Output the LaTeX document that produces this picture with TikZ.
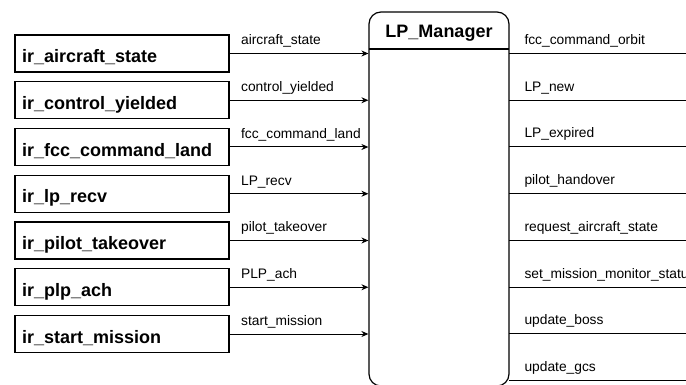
\documentclass[tikz,border=0pt]{standalone}
\usepackage{fontspec}
\setmainfont{Liberation Sans}
\usetikzlibrary{arrows.meta}
\begin{document}
\begin{tikzpicture}[x=1pt,y=-1pt,
  inbox/.style={draw, line width=1.2pt, minimum width=214pt, minimum height=37pt,
    inner xsep=7pt, inner ysep=0pt, text width=200pt, align=left,
    font=\fontsize{18}{20}\selectfont\bfseries, text height=18.4pt, text depth=0pt},
  manager/.style={draw, line width=1.2pt, rounded corners=12pt,
    minimum width=140pt, minimum height=374pt, inner sep=0pt},
  flow/.style={line width=1pt, -{Stealth[length=7pt,width=6pt]}},
  outflow/.style={line width=1pt},
  sig/.style={font=\fontsize{13.8}{15}\selectfont, inner sep=0pt, anchor=base west}]

\useasboundingbox (0,0) rectangle (686,385);
\clip (0,0) rectangle (686,385);

% central block with its header
\node[manager] (mgr) at (439,199) {};
\node[font=\fontsize{18}{20}\selectfont\bfseries, inner sep=0pt, anchor=base] (title) at (439,37.5) {LP\_Manager};
\coordinate (hl) at (369,49);
\coordinate (hr) at (509,49);
\draw[line width=1.2pt] (hl) -- (hr);

% input blocks and their signals
\foreach \i/\blk/\sg in {0/ir\_aircraft\_state/aircraft\_state,
                         1/ir\_control\_yielded/control\_yielded,
                         2/ir\_fcc\_command\_land/fcc\_command\_land,
                         3/ir\_lp\_recv/LP\_recv,
                         4/ir\_pilot\_takeover/pilot\_takeover,
                         5/ir\_plp\_ach/PLP\_ach,
                         6/ir\_start\_mission/start\_mission}{
  \node[inbox] (in\i) at (122,53.5+46.75*\i) {\blk};
  \draw[flow] (in\i.east) -- (in\i.east -| mgr.west)
    node[sig, pos=0, xshift=11pt, yshift=8.5pt] (sl\i) {\sg};
}

% output signals leaving the block
\foreach \j/\sg in {0/fcc\_command\_orbit,
                    1/LP\_new,
                    2/LP\_expired,
                    3/pilot\_handover,
                    4/request\_aircraft\_state,
                    5/set\_mission\_monitor\_status,
                    6/update\_boss,
                    7/update\_gcs}{
  \coordinate (ob\j) at (509,53.5+46.7*\j);
  \coordinate (oe\j) at (700,53.5+46.7*\j);
  \draw[outflow] (ob\j) -- (oe\j)
    node[sig, pos=0, xshift=15pt, yshift=9pt] (ol\j) {\sg};
}
\end{tikzpicture}
\end{document}
